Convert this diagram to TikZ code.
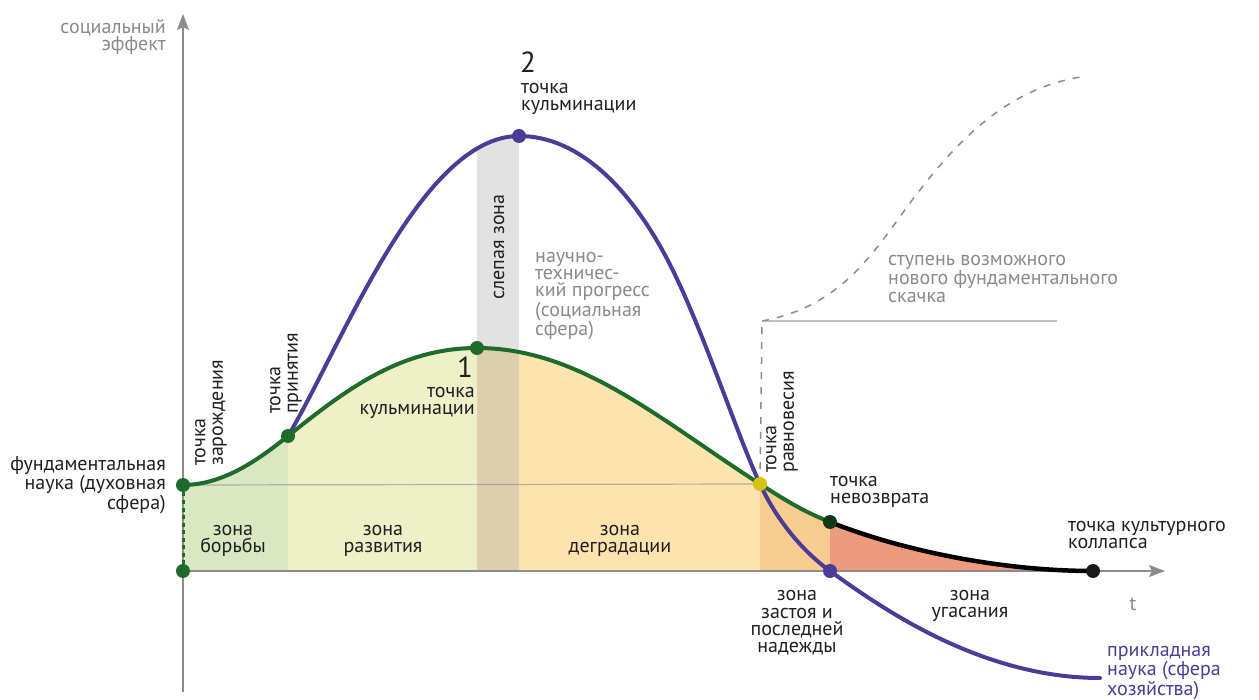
\documentclass[tikz,border=0pt]{standalone}
\usepackage{fontspec}
\setmainfont{PT Sans}
\usetikzlibrary{arrows.meta}
\definecolor{gr}{HTML}{1E6B2C}
\definecolor{dgr}{HTML}{0F3A16}
\definecolor{pu}{HTML}{4B3C98}
\definecolor{ye}{HTML}{D2C315}
\definecolor{txt}{HTML}{231F20}
\definecolor{gtxt}{HTML}{8A8A8A}
\definecolor{axc}{HTML}{8C8C8C}
\definecolor{zA}{HTML}{D9E7C3}
\definecolor{zB}{HTML}{EEF0C7}
\definecolor{zC}{HTML}{DCCEAE}
\definecolor{zD}{HTML}{FDE4AE}
\definecolor{zE}{HTML}{F9CC90}
\definecolor{zF}{HTML}{EE9A7C}
\definecolor{band}{HTML}{E2E2E2}
\begin{document}
\begin{tikzpicture}[x=1pt,y=-1pt,
  lbl/.style={font=\fontsize{20}{17.4}\selectfont, text=txt, inner sep=0pt},
  glbl/.style={lbl, text=gtxt},
  big/.style={font=\fontsize{29}{29}\selectfont, text=txt, inner sep=0pt},
  dot/.style={circle, inner sep=0pt, minimum size=14pt},
  axis/.style={draw=axc, line width=1.5pt, -{Stealth[length=16pt,width=12pt,inset=3pt]}},
  curve/.style={line width=4pt, line cap=round},
  guide/.style={draw=axc, line width=1.5pt, dash pattern=on 7pt off 8pt}
]
\useasboundingbox (0,0) rectangle (1259,700);
% key points
\coordinate (g0) at (183,485);
\coordinate (x0) at (183,571);
\coordinate (g1) at (288,436);
\coordinate (g2) at (477,348);
\coordinate (g3) at (760,484);
\coordinate (g4) at (830,522);
\coordinate (g5) at (1093,571);
\coordinate (p2) at (519,136);
\coordinate (pm) at (665,255);
\coordinate (p4) at (830,571);
\coordinate (pe) at (1100,678);
\coordinate (s0) at (762,321);
\coordinate (s1) at (920,190);
\coordinate (s2) at (1087,76);
\coordinate (h1) at (1057,321);
\coordinate (yb) at (183,692);
\coordinate (yt) at (183,14);
\coordinate (xt) at (1165,571);
% blind zone band
\begin{scope}
  \clip (g1) .. controls (340,350) and (420,136) .. (p2) -- (519,571) -- (288,571) -- cycle;
  \fill[band] (477,100) rectangle (519,571);
\end{scope}
% zones under the green curve
\begin{scope}
  \clip (x0) -- (g0) .. controls (225,485) and (262,456.8) .. (g1)
        .. controls (345,390.4) and (400,348) .. (g2)
        .. controls (580,348) and (660,420) .. (g3)
        .. controls (790,503.2) and (805,512) .. (g4)
        .. controls (900,550) and (1000,571) .. (g5) -- cycle;
  \fill[zA] (183,300) rectangle (288,571);
  \fill[zB] (288,300) rectangle (477,571);
  \fill[zC] (477,300) rectangle (519,571);
  \fill[zD] (519,300) rectangle (760,571);
  \fill[zE] (760,300) rectangle (830,571);
  \fill[zF] (830,300) rectangle (1093,571);
\end{scope}
% reference level
\draw[black!45, opacity=0.6, line width=1.2pt] (g0) -- (g3);
% axes
\draw[axis] (yb) -- (yt);
\draw[axis] (x0) -- (xt);
% possible new leap
\draw[guide] (g3) -- (s0);
\draw[draw=black!25, line width=1.5pt] (s0) -- (h1);
\draw[guide] (s0) .. controls (850,305) and (880,240) .. (s1)
      .. controls (970,125) and (1020,85) .. (s2);
% dotted green drop
\draw[gr, line width=3pt, dash pattern=on 4pt off 3.5pt] (g0) -- (x0);
% purple curve (applied science)
\draw[curve, pu] (g1) .. controls (340,350) and (420,136) .. (p2)
      .. controls (580,136) and (630,190) .. (pm)
      .. controls (700,320) and (735,430) .. (g3)
      .. controls (778,523) and (805,553) .. (p4)
      .. controls (880,607) and (980,678) .. (pe);
% green curve (fundamental science)
\draw[curve, gr] (g0) .. controls (225,485) and (262,456.8) .. (g1)
      .. controls (345,390.4) and (400,348) .. (g2)
      .. controls (580,348) and (660,420) .. (g3)
      .. controls (790,503.2) and (805,512) .. (g4);
\draw[curve, black, line width=4.5pt] (g4) .. controls (900,550) and (1000,571) .. (g5);
% dots
\node[dot, fill=gr] (d0) at (g0) {};
\node[dot, fill=gr] (dx) at (x0) {};
\node[dot, fill=gr] (d1) at (g1) {};
\node[dot, fill=gr] (d2) at (g2) {};
\node[dot, fill=pu] (dp2) at (p2) {};
\node[dot, fill=ye] (d3) at (g3) {};
\node[dot, fill=dgr] (d4) at (g4) {};
\node[dot, fill=pu] (dp4) at (p4) {};
\node[dot, fill=black!90] (d5) at (g5) {};
% labels
\node[glbl, align=right, anchor=east] (tsoc) at (166,37) {социальный\\эффект};
\node[lbl, align=right, anchor=east] (tfund) at (166,485) {фундаментальная\\наука (духовная\\сфера)};
\node[lbl, align=left, anchor=west, rotate=90] (tzar) at (211,466) {точка\\зарождения};
\node[lbl, align=left, anchor=west, rotate=90] (tpri) at (286,414) {точка\\принятия};
\node[lbl, align=center] (zb) at (233,541) {зона\\борьбы};
\node[lbl, align=center] (zr) at (383,541) {зона\\развития};
\node[lbl, align=center] (zd) at (620,541) {зона\\деградации};
\node[big] (n1) at (465,367) {1};
\node[lbl, align=right, anchor=east] (tk1) at (475,403) {точка\\кульминации};
\node[big, anchor=west] (n2) at (520,62) {2};
\node[lbl, align=left, anchor=west] (tk2) at (521,99) {точка\\кульминации};
\node[lbl, rotate=90] (tsl) at (499,247) {слепая зона};
\node[glbl, align=left, anchor=west] (tntp) at (535,296) {научно-\\техничес-\\кий прогресс\\(социальная\\сфера)};
\node[glbl, align=left, anchor=west] (tst) at (888,279) {ступень возможного\\нового фундаментального\\скачка};
\node[lbl, align=left, anchor=west, rotate=90] (trav) at (782,473) {точка\\равновесия};
\node[lbl, align=left, anchor=west] (tnev) at (830,492) {точка\\невозврата};
\node[lbl, align=left, anchor=west] (tkol) at (1068,535) {точка культурного\\коллапса};
\node[glbl] (tt) at (1133,604) {t};
\node[lbl, align=center] (zz) at (797,623) {зона\\застоя и\\последней\\надежды};
\node[lbl, align=center] (zu) at (970,606) {зона\\угасания};
\node[lbl, text=pu, align=left, anchor=west] (tpr) at (1107,673) {прикладная\\наука (сфера\\хозяйства)};
\end{tikzpicture}
\end{document}
